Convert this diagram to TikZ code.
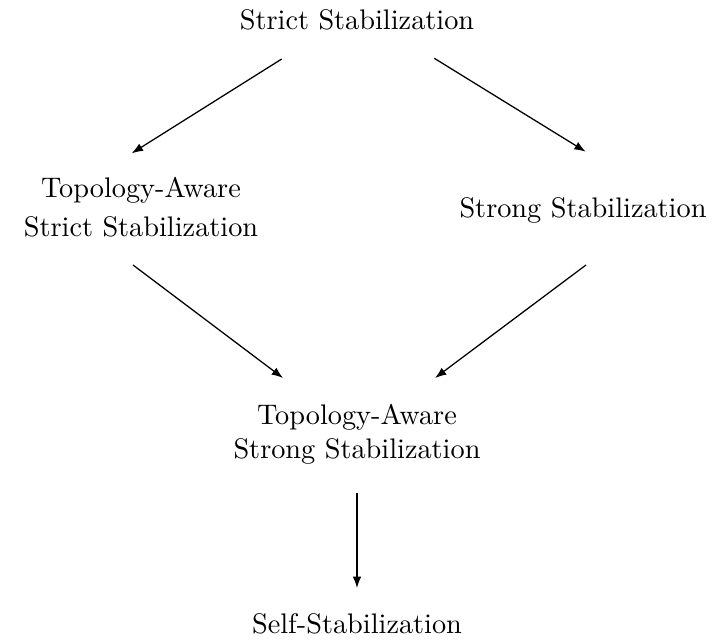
\documentclass[tikz,border=0pt]{standalone}
\usetikzlibrary{arrows.meta}
\begin{document}
\begin{tikzpicture}[x=0.3534pt,y=-0.3534pt,
  lbl/.style={align=center,inner sep=0pt,font=\normalsize},
  arr/.style={-{Latex[length=4pt,width=3pt]},line width=0.45pt}]
\useasboundingbox (0,0) rectangle (713,641);
\node[lbl] (A) at (357,19.5) {Strict Stabilization};
\node[lbl] (B) at (141,206.7) {Topology-Aware\\[1.8pt]Strict Stabilization};
\node[lbl] (C) at (583,210) {Strong Stabilization};
\node[lbl] (D) at (357,434) {Topology-Aware\\Strong Stabilization};
\node[lbl] (E) at (357,624) {Self-Stabilization};
\draw[arr] ([shift={(-75.3,39.5)}]A.center) -- ([shift={(-9.3,-53.4)}]B.center);
\draw[arr] ([shift={(77.3,38.8)}]A.center) -- ([shift={(2.7,-58.3)}]C.center);
\draw[arr] ([shift={(-8,58.3)}]B.center) -- ([shift={(-74,-56)}]D.center);
\draw[arr] ([shift={(3,55)}]C.center) -- ([shift={(78,-56)}]D.center);
\draw[arr] ([shift={(0,59)}]D.center) -- ([shift={(0,-36)}]E.center);
\end{tikzpicture}
\end{document}
